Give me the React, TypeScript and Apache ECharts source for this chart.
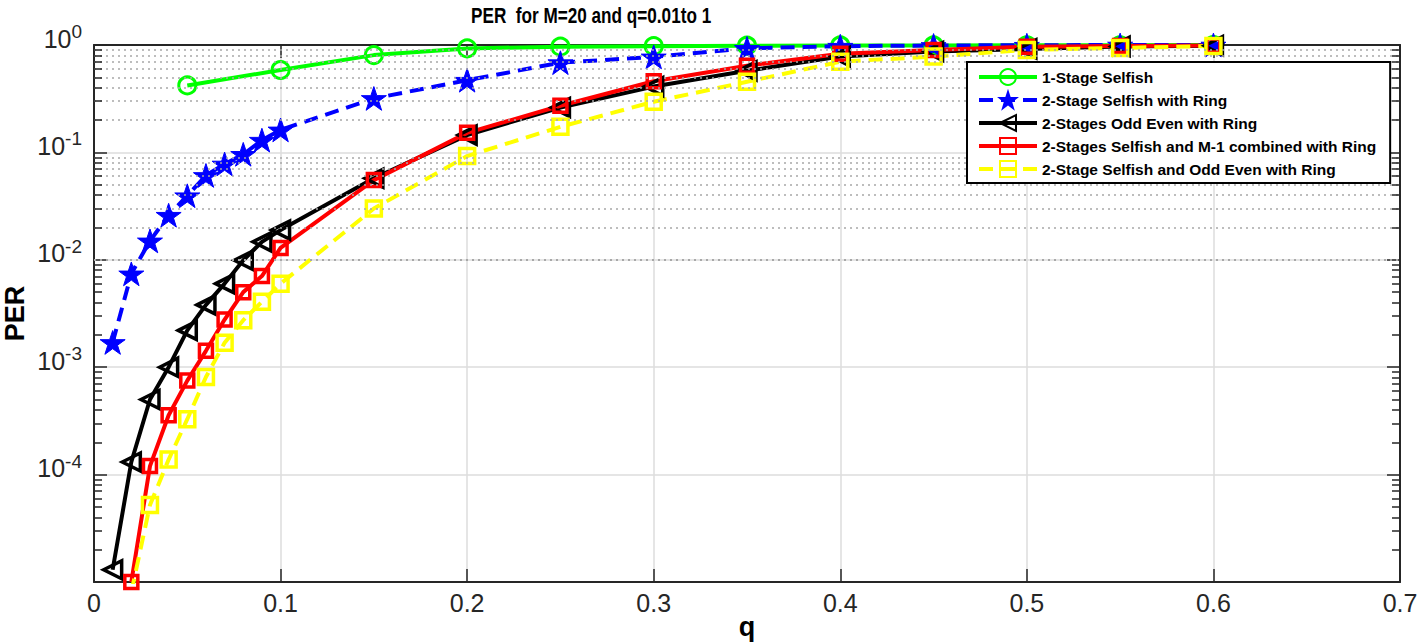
import React, { useEffect, useRef } from "react";
import * as echarts from "echarts";

// ---- data ----
const seriesNames = [
  "1-Stage Selfish",
  "2-Stage Selfish with Ring",
  "2-Stages Odd Even with Ring",
  "2-Stages Selfish and M-1 combined with Ring",
  "2-Stage Selfish and Odd Even with Ring",
];

const qGreen = [0.05, 0.1, 0.15, 0.2, 0.25, 0.3, 0.35, 0.4, 0.45, 0.5, 0.55, 0.6];
const perGreen = [0.42, 0.585, 0.805, 0.93, 0.965, 0.975, 0.985, 0.99, 0.99, 0.995, 0.995, 1.0];

const qBlue = [0.01, 0.02, 0.03, 0.04, 0.05, 0.06, 0.07, 0.08, 0.09, 0.1, 0.15, 0.2, 0.25, 0.3, 0.35, 0.4, 0.45, 0.5, 0.55, 0.6];
const perBlue = [0.0017, 0.0074, 0.015, 0.026, 0.0395, 0.061, 0.078, 0.096, 0.13, 0.162, 0.318, 0.47, 0.685, 0.775, 0.93, 0.975, 0.99, 0.995, 1.0, 1.0];

const qBlack = [0.01, 0.02, 0.03, 0.04, 0.05, 0.06, 0.07, 0.08, 0.09, 0.1, 0.15, 0.2, 0.25, 0.3, 0.35, 0.4, 0.45, 0.5, 0.55, 0.6];
const perBlack = [1.3e-5, 1.31e-4, 5.0e-4, 1.0e-3, 2.2e-3, 3.8e-3, 6.0e-3, 9.9e-3, 0.0147, 0.0189, 0.0575, 0.145, 0.262, 0.41, 0.575, 0.78, 0.87, 0.92, 0.97, 0.985];

const qRed = [0.02, 0.03, 0.04, 0.05, 0.06, 0.07, 0.08, 0.09, 0.1, 0.15, 0.2, 0.25, 0.3, 0.35, 0.4, 0.45, 0.5, 0.55, 0.6];
const perRed = [1.0e-5, 1.2e-4, 3.57e-4, 7.5e-4, 1.42e-3, 2.78e-3, 5.0e-3, 7.05e-3, 0.0129, 0.0552, 0.152, 0.272, 0.46, 0.64, 0.83, 0.9, 0.965, 0.98, 0.99];

const qYellow = [0.02, 0.03, 0.04, 0.05, 0.06, 0.07, 0.08, 0.09, 0.1, 0.15, 0.2, 0.25, 0.3, 0.35, 0.4, 0.45, 0.5, 0.55, 0.6];
const perYellow = [8e-6, 5.2e-5, 1.38e-4, 3.28e-4, 8.1e-4, 1.69e-3, 2.74e-3, 4.06e-3, 6.0e-3, 0.03, 0.0925, 0.173, 0.296, 0.455, 0.7, 0.78, 0.9, 0.94, 0.98];

const xTicks = [0, 0.1, 0.2, 0.3, 0.4, 0.5, 0.6, 0.7];
const yDecades = [-5, -4, -3, -2, -1, 0];
const minorMultipliers = [2, 3, 4, 5, 6, 7, 8, 9];
const titleText = "PER  for M=20 and q=0.01to 1";

const FONT = "'Liberation Sans', Arial, Helvetica, sans-serif";

const STAR = "path://M50 2 L61.8 37.6 L99 37.6 L69 59.5 L80.4 95 L50 73 L19.6 95 L31 59.5 L1 37.6 L38.2 37.6 Z";

function zip(q: number[], v: number[]) {
  return q.map((x, i) => [x, v[i]]);
}

export default function App() {
  const ref = useRef<HTMLDivElement>(null);
  useEffect(() => {
    document.body.style.margin = "0";
    document.body.style.overflow = "hidden";
    if (!ref.current) return;
    const chart = echarts.init(ref.current, null, { renderer: "svg" });

    const minorVals: number[] = [];
    yDecades.slice(0, -1).forEach((e) => {
      minorMultipliers.forEach((m) => minorVals.push(m * Math.pow(10, e)));
    });
    const xMin = xTicks[0];
    const xMax = xTicks[xTicks.length - 1];
    const tickLen = ((xMax - xMin) * 8) / 1306;

    const minorTickSegments: any[] = [];
    minorVals.forEach((v) => {
      minorTickSegments.push([{ coord: [xMin, v] }, { coord: [xMin + tickLen, v] }]);
      minorTickSegments.push([{ coord: [xMax - tickLen, v] }, { coord: [xMax, v] }]);
    });

    const lineW = 4;
    const option: any = {
      animation: false,
      backgroundColor: "#ffffff",
      graphic: [
        {
          type: "text",
          x: 471,
          y: 4,
          scaleX: 0.78,
          silent: true,
          style: {
            text: titleText,
            fontFamily: FONT,
            fontWeight: "bold",
            fontSize: 22,
            fill: "#000",
            verticalAlign: "top",
            align: "left",
          },
        },
      ],
      grid: { left: 94, top: 45, right: 24, bottom: 62, containLabel: false, outerBoundsMode: "none" },
      legend: {
        data: seriesNames,
        orient: "vertical",
        left: 967,
        top: 62,
        z: 10,
        itemWidth: 58,
        itemHeight: 20,
        itemGap: 5,
        padding: [6, 14, 5, 10],
        backgroundColor: "#ffffff",
        borderColor: "#000000",
        borderWidth: 2,
        borderRadius: 0,
        lineStyle: { width: 4 },
        textStyle: { fontFamily: FONT, fontWeight: "bold", fontSize: 15.5, color: "#000" },
        selectedMode: false,
      },
      xAxis: [
        {
          type: "value",
          min: xMin,
          max: xMax,
          interval: 0.1,
          name: "q",
          nameLocation: "middle",
          nameGap: 31,
          nameMoveOverlap: false,
          nameTextStyle: { fontFamily: FONT, fontWeight: "bold", fontSize: 27, lineHeight: 27, color: "#000" },
          axisLine: { show: true, onZero: false, lineStyle: { color: "#262626", width: 2 } },
          axisTick: { show: true, inside: true, length: 13, lineStyle: { color: "#262626", width: 1.5 } },
          axisLabel: {
            margin: 8,
            fontFamily: FONT,
            fontSize: 25,
            color: "#262626",
            formatter: (v: number) => String(+v.toFixed(1)),
          },
          splitLine: { show: true, lineStyle: { color: "#dcdcdc", width: 1.5 } },
        },
        {
          type: "value",
          position: "top",
          min: xMin,
          max: xMax,
          interval: 0.1,
          axisLine: { show: true, onZero: false, lineStyle: { color: "#262626", width: 2 } },
          axisTick: { show: true, inside: true, length: 13, lineStyle: { color: "#262626", width: 1.5 } },
          axisLabel: { show: false },
          splitLine: { show: false },
        },
      ],
      yAxis: [
        {
          type: "log",
          logBase: 10,
          min: 1e-5,
          max: 1,
          name: "PER",
          nameLocation: "middle",
          nameGap: 66,
          nameMoveOverlap: false,
          nameRotate: 90,
          nameTextStyle: { fontFamily: FONT, fontWeight: "bold", fontSize: 27, lineHeight: 27, color: "#000" },
          axisLine: { show: true, onZero: false, lineStyle: { color: "#262626", width: 2 } },
          axisTick: { show: true, inside: true, length: 13, lineStyle: { color: "#262626", width: 1.5 } },
          axisLabel: {
            margin: 12,
            color: "#262626",
            formatter: (v: number) => {
              const e = Math.round(Math.log10(v));
              if (e === yDecades[0]) return "";
              return "{b|10}{s|" + e + "}";
            },
            rich: {
              b: { fontFamily: FONT, fontSize: 25, color: "#262626", verticalAlign: "middle", padding: [0, 0, 13, 0] },
              s: { fontFamily: FONT, fontSize: 19, color: "#262626", verticalAlign: "middle", padding: [0, 0, 27, 0] },
            },
          },
          splitLine: { show: true, lineStyle: { color: "#dcdcdc", width: 1.5 } },
          minorTick: { show: false },
        },
        {
          type: "log",
          logBase: 10,
          min: 1e-5,
          max: 1,
          position: "right",
          axisLine: { show: true, onZero: false, lineStyle: { color: "#262626", width: 2 } },
          axisTick: { show: true, inside: true, length: 13, lineStyle: { color: "#262626", width: 1.5 } },
          axisLabel: { show: false },
          splitLine: { show: false },
        },
      ],
      series: [
        {
          name: "minorGrid",
          type: "line",
          data: [[xMin, 1]],
          showSymbol: false,
          symbol: "none",
          lineStyle: { opacity: 0 },
          z: 1,
          silent: true,
          markLine: {
            silent: true,
            symbol: ["none", "none"],
            label: { show: false },
            lineStyle: { color: "#a8a8a8", width: 1.5, type: [2, 4] },
            data: minorVals.map((v) => ({ yAxis: v })),
          },
        },
        {
          name: "minorTicks",
          type: "line",
          data: [[xMin, 1]],
          showSymbol: false,
          symbol: "none",
          lineStyle: { opacity: 0 },
          z: 1,
          silent: true,
          markLine: {
            silent: true,
            symbol: ["none", "none"],
            label: { show: false },
            lineStyle: { color: "#262626", width: 1.5, type: "solid" },
            data: minorTickSegments,
          },
        },
        {
          name: seriesNames[0],
          type: "line",
          data: zip(qGreen, perGreen),
          symbol: "circle",
          symbolSize: 17,
          color: "#00ff00",
          lineStyle: { color: "#00ff00", width: lineW },
          itemStyle: { color: "rgba(255,255,255,0)", borderColor: "#00ff00", borderWidth: 3 },
          z: 3,
        },
        {
          name: seriesNames[1],
          type: "line",
          data: zip(qBlue, perBlue),
          symbol: STAR,
          symbolKeepAspect: true,
          symbolSize: 25,
          color: "#0000ff",
          lineStyle: { color: "#0000ff", width: lineW, type: [14, 8] },
          itemStyle: { color: "#0000ff", borderColor: "#0000ff", borderWidth: 1 },
          z: 3,
        },
        {
          name: seriesNames[2],
          type: "line",
          data: zip(qBlack, perBlack),
          symbol: "triangle",
          symbolRotate: 90,
          symbolSize: 18,
          color: "#000000",
          lineStyle: { color: "#000000", width: lineW },
          itemStyle: { color: "rgba(255,255,255,0)", borderColor: "#000000", borderWidth: 3.5 },
          z: 3,
        },
        {
          name: seriesNames[3],
          type: "line",
          data: zip(qRed, perRed),
          symbol: "rect",
          symbolSize: 13,
          color: "#ff0000",
          lineStyle: { color: "#ff0000", width: lineW },
          itemStyle: { color: "rgba(255,255,255,0)", borderColor: "#ff0000", borderWidth: 3.5 },
          z: 3,
        },
        {
          name: seriesNames[4],
          type: "line",
          data: zip(qYellow, perYellow),
          symbol: "rect",
          symbolSize: 15,
          color: "#ffff00",
          lineStyle: { color: "#ffff00", width: lineW, type: [14, 8] },
          itemStyle: { color: "rgba(255,255,255,0)", borderColor: "#ffff00", borderWidth: 3.5 },
          z: 3,
        },
      ],
    };
    chart.setOption(option);
    return () => chart.dispose();
  }, []);

  return <div ref={ref} style={{ width: 1424, height: 644, background: "#fff" }} />;
}
